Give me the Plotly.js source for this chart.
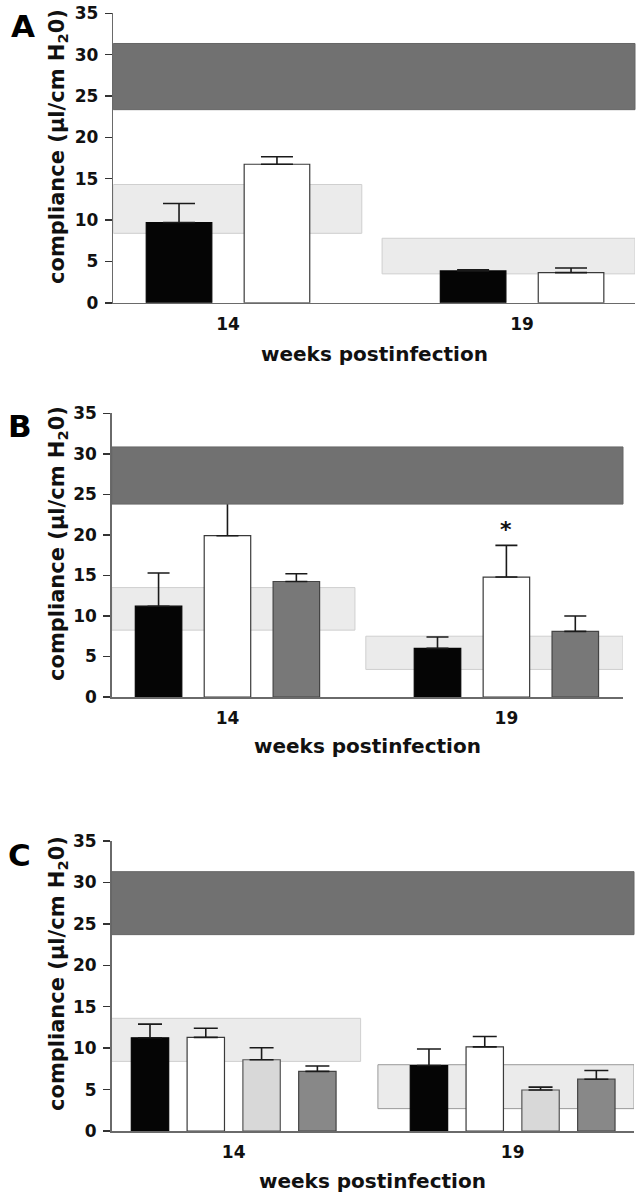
<!DOCTYPE html>
<html><head><meta charset="utf-8">
<script src="https://cdn.plot.ly/plotly-3.0.1.min.js"></script>
<style>html,body{margin:0;padding:0;background:#fff}</style>
</head><body><div id="chart" style="width:639px;height:1199px"></div>
<script>
// ---------- data ----------
const weeks = ["14", "19"];
const yTicks = [0, 5, 10, 15, 20, 25, 30, 35];

// Panel A
const aBlack = [9.7, 3.85];
const aBlackErr = [2.3, 0.15];
const aWhite = [16.75, 3.65];
const aWhiteErr = [0.9, 0.55];
const aNormal = [23.35, 31.35];
const aRef14 = [8.4, 14.3];
const aRef19 = [3.5, 7.8];

// Panel B
const bBlack = [11.2, 6.0];
const bBlackErr = [4.1, 1.4];
const bWhite = [19.9, 14.8];
const bWhiteErr = [4.6, 3.9];
const bGray = [14.25, 8.1];
const bGrayErr = [0.95, 1.9];
const bNormal = [23.8, 30.85];
const bRef14 = [8.25, 13.5];
const bRef19 = [3.4, 7.5];
const bStarWeek = "19";
const bStarY = 20.7;

// Panel C
const cBlack = [11.25, 7.9];
const cBlackErr = [1.65, 2.0];
const cWhite = [11.3, 10.15];
const cWhiteErr = [1.1, 1.25];
const cLight = [8.6, 4.95];
const cLightErr = [1.45, 0.35];
const cDark = [7.2, 6.25];
const cDarkErr = [0.65, 1.05];
const cNormal = [23.7, 31.3];
const cRef14 = [8.4, 13.6];
const cRef19 = [2.7, 8.0];

// ---------- styling / layout ----------
const FONT = "DejaVu Sans, Liberation Sans, Arial, sans-serif";
const W = 639, H = 1199;
const colBlack = {fill: "#050505", line: "#050505"};
const colWhite = {fill: "#ffffff", line: "#3a3a3a"};
const colGrayB = {fill: "#787878", line: "#444444"};
const colLight = {fill: "#d8d8d8", line: "#555555"};
const colDarkC = {fill: "#888888", line: "#444444"};

const panels = [
  {letter: "A", xa: "x", ya: "y", xdom: [113.3, 635], ydom: [302.8, 13.3], xr: [-0.39, 1.384],
   slot: 0.333, bw: 0.223, cap: 16,
   series: [[aBlack, aBlackErr, colBlack], [aWhite, aWhiteErr, colWhite]],
   normal: aNormal, refs: [[aRef14, [-0.39, 0.455]], [aRef19, [0.524, 1.384]]],
   letterPos: [23, 26], ytitleY: 147, xtitleY: 354},
  {letter: "B", xa: "x2", ya: "y2", xdom: [111.7, 623], ydom: [697, 413.3], xr: [-0.415, 1.418],
   slot: 0.247, bw: 0.1667, cap: 11,
   series: [[bBlack, bBlackErr, colBlack], [bWhite, bWhiteErr, colWhite], [bGray, bGrayErr, colGrayB]],
   normal: bNormal, refs: [[bRef14, [-0.415, 0.457]], [bRef19, [0.496, 1.418]]],
   letterPos: [20, 426], ytitleY: 544, xtitleY: 746},
  {letter: "C", xa: "x3", ya: "y3", xdom: [111.5, 634], ydom: [1131, 841], xr: [-0.438, 1.435],
   slot: 0.2, bw: 0.134, cap: 12,
   series: [[cBlack, cBlackErr, colBlack], [cWhite, cWhiteErr, colWhite], [cLight, cLightErr, colLight], [cDark, cDarkErr, colDarkC]],
   normal: cNormal, refs: [[cRef14, [-0.438, 0.455]], [cRef19, [0.517, 1.435]]],
   letterPos: [19, 855], ytitleY: 974, xtitleY: 1181}
];

const traces = [];
const shapes = [];
const annotations = [];
const layout = {
  width: W, height: H, margin: {l: 0, r: 0, t: 0, b: 0},
  paper_bgcolor: "#fff", plot_bgcolor: "rgba(0,0,0,0)",
  showlegend: false, barmode: "overlay",
  font: {family: FONT, color: "#111", weight: "bold"},
  shapes: shapes, annotations: annotations
};

panels.forEach((p, pi) => {
  const n = p.series.length;
  p.series.forEach((s, i) => {
    const [vals, errs, col] = s;
    const center = (i - (n - 1) / 2) * p.slot;
    traces.push({
      type: "bar", x: weeks, y: vals, xaxis: p.xa, yaxis: p.ya,
      width: p.bw, offset: center - p.bw / 2,
      marker: {color: col.fill, line: {color: col.line, width: 1.2}},
      error_y: {type: "data", symmetric: false, array: errs, arrayminus: weeks.map(() => 0),
                color: "#1a1a1a", thickness: 1.6, width: p.cap},
      hoverinfo: "skip"
    });
  });
  const suffix = pi === 0 ? "" : String(pi + 1);
  layout["xaxis" + suffix] = {
    domain: [p.xdom[0] / W, p.xdom[1] / W], anchor: p.ya, type: "category",
    range: p.xr, showline: true, linecolor: "#6a6a6a", linewidth: 1.5,
    ticks: "", showgrid: false, zeroline: false, fixedrange: true,
    tickfont: {family: FONT, size: 17, color: "#111", weight: "bold"},
    ticklabelstandoff: 5
  };
  layout["yaxis" + suffix] = {
    domain: [1 - p.ydom[0] / H, 1 - p.ydom[1] / H], anchor: p.xa,
    range: [0, 35], tickvals: yTicks, ticktext: yTicks.map(String),
    showline: true, linecolor: "#6a6a6a", linewidth: 1.5,
    ticks: "outside", ticklen: 7, tickwidth: 1.5, tickcolor: "#333",
    showgrid: false, zeroline: false, fixedrange: true,
    tickfont: {family: FONT, size: 17, color: "#111", weight: "bold"},
    ticklabelstandoff: 3
  };
  // normal range (dark band)
  shapes.push({type: "rect", xref: p.xa + " domain", yref: p.ya, x0: 0, x1: 1,
               y0: p.normal[0], y1: p.normal[1], fillcolor: "#717171",
               line: {color: "#666666", width: 1}, layer: "above"});
  // reference ranges (light bands)
  p.refs.forEach(r => {
    shapes.push({type: "rect", xref: p.xa, yref: p.ya, x0: r[1][0], x1: r[1][1],
                 y0: r[0][0], y1: r[0][1], fillcolor: "#ebebeb",
                 line: {color: pi === 2 && r === p.refs[1] ? "#9a9a9a" : "#cfcfcf", width: 1},
                 layer: "below"});
  });
  annotations.push({xref: "paper", yref: "paper", x: p.letterPos[0] / W, y: 1 - p.letterPos[1] / H,
    text: p.letter, showarrow: false, xanchor: "center", yanchor: "middle",
    font: {family: FONT, size: 31, color: "#000", weight: "bold"}});
  annotations.push({xref: "paper", yref: "paper", x: 58 / W, y: 1 - p.ytitleY / H,
    text: "compliance (μl/cm H<sub>2</sub>0)", textangle: -90, showarrow: false,
    xanchor: "center", yanchor: "middle",
    font: {family: FONT, size: 21, color: "#111", weight: "bold"}});
  annotations.push({xref: "paper", yref: "paper", x: (p.xdom[0] + p.xdom[1]) / 2 / W, y: 1 - p.xtitleY / H,
    text: "weeks postinfection", showarrow: false, xanchor: "center", yanchor: "middle",
    font: {family: FONT, size: 20, color: "#111", weight: "bold"}});
});

annotations.push({xref: "x2", yref: "y2", x: weeks.indexOf(bStarWeek), y: bStarY, text: "*", showarrow: false,
  xanchor: "center", yanchor: "middle", font: {family: FONT, size: 22, color: "#111", weight: "bold"}});

Plotly.newPlot("chart", traces, layout, {staticPlot: true, displayModeBar: false});
</script>
</body></html>
